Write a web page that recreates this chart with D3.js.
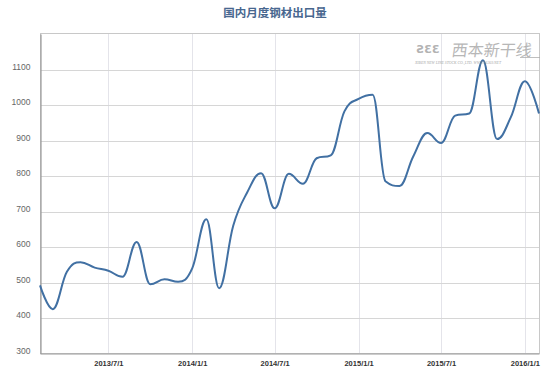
<!DOCTYPE html>
<html><head><meta charset="utf-8">
<script src="https://cdn.jsdelivr.net/npm/d3@7"></script>
<style>body{margin:0;background:#fff;overflow:hidden}</style>
</head><body><svg id="c" width="559" height="382"></svg>
<script>
const title = "国内月度钢材出口量";
const months = ["2013-01","2013-02","2013-03","2013-04","2013-05","2013-06","2013-07","2013-08","2013-09","2013-10","2013-11","2013-12",
  "2014-01","2014-02","2014-03","2014-04","2014-05","2014-06","2014-07","2014-08","2014-09","2014-10","2014-11","2014-12",
  "2015-01","2015-02","2015-03","2015-04","2015-05","2015-06","2015-07","2015-08","2015-09","2015-10","2015-11","2015-12",
  "2016-01"];
const exportVolume = [492,425,530,557,542,533,516,614,495,509,502,540,
  678,484,660,752,808,709,806,778,850,858,982,
  1017,1029,785,772,855,921,893,970,976,1126,904,965,
  1067,976];
const yTicks = [300,400,500,600,700,800,900,1000,1100];
const xTickDates = ["2013-07-01","2014-01-01","2014-07-01","2015-01-01","2015-07-01","2016-01-01"];
const xTickLabels = ["2013/7/1","2014/1/1","2014/7/1","2015/1/1","2015/7/1","2016/1/1"];

const svg = d3.select("#c");
const L = 40, R = 539, T = 34, B = 353.5;
const parseM = d3.timeParse("%Y-%m");
const parseD = d3.timeParse("%Y-%m-%d");
// each month's value is plotted at the end of that month
const pts = months.map((m, i) => ({d: d3.timeMonth.offset(parseM(m), 1), v: exportVolume[i]}));

const x = d3.scaleTime().domain([pts[0].d, pts[pts.length-1].d]).range([L, R]);
const y = d3.scaleLinear().domain([300, 1200]).range([B, T]);

// vertical grid
svg.append("g").selectAll("line").data(xTickDates).join("line")
  .attr("x1", d => Math.round(x(parseD(d))) + 0.5).attr("x2", d => Math.round(x(parseD(d))) + 0.5)
  .attr("y1", T).attr("y2", B).attr("stroke", "#e4e4ea").attr("stroke-width", 1);
// horizontal grid
svg.append("g").selectAll("line").data(yTicks.slice(1)).join("line")
  .attr("x1", L).attr("x2", R)
  .attr("y1", d => Math.round(y(d)) + 0.5).attr("y2", d => Math.round(y(d)) + 0.5)
  .attr("stroke", "#d6d6d6").attr("stroke-width", 1);
// plot border
svg.append("rect").attr("x", L + 0.5).attr("y", T - 0.5).attr("width", R - L).attr("height", B - T + 0.5)
  .attr("fill", "none").attr("stroke", "#c8c8c8").attr("stroke-width", 1);

// axes
const yAxis = d3.axisLeft(y).tickValues(yTicks).tickSize(0).tickPadding(10).tickFormat(d3.format("d"));
const gy = svg.append("g").attr("transform", `translate(${L + 0.5},0)`).call(yAxis);
gy.select(".domain").attr("stroke", "#9a9a9a").attr("stroke-width", 1.2);
gy.selectAll("text").attr("font-family", "Liberation Sans, Arial, sans-serif").attr("font-size", 8.5)
  .attr("fill", "#666").attr("dy", "-0.05em");

const xAxis = d3.axisBottom(x).tickValues(xTickDates.map(parseD)).tickSize(0).tickPadding(7)
  .tickFormat((d, i) => xTickLabels[i]);
const gx = svg.append("g").attr("transform", `translate(0,${B})`).call(xAxis);
gx.select(".domain").attr("stroke", "#9a9a9a").attr("stroke-width", 1.2);
gx.selectAll("text").attr("font-family", "Liberation Sans, Arial, sans-serif").attr("font-size", 7.5)
  .attr("font-weight", "bold").attr("fill", "#333");

// Highcharts-style spline
function splinePath(P) {
  const s = 1.5, den = s + 1, p = d3.path();
  P.forEach((pt, i) => {
    const prev = P[i-1], next = P[i+1];
    let lcx, lcy, rcx, rcy;
    if (prev && next) {
      lcx = (s*pt.x + prev.x)/den; lcy = (s*pt.y + prev.y)/den;
      rcx = (s*pt.x + next.x)/den; rcy = (s*pt.y + next.y)/den;
      const corr = ((rcy - lcy)*(rcx - pt.x))/(rcx - lcx) + pt.y - rcy;
      lcy += corr; rcy += corr;
      if (lcy > prev.y && lcy > pt.y) { lcy = Math.max(prev.y, pt.y); rcy = 2*pt.y - lcy; }
      else if (lcy < prev.y && lcy < pt.y) { lcy = Math.min(prev.y, pt.y); rcy = 2*pt.y - lcy; }
      if (rcy > next.y && rcy > pt.y) { rcy = Math.max(next.y, pt.y); lcy = 2*pt.y - rcy; }
      else if (rcy < next.y && rcy < pt.y) { rcy = Math.min(next.y, pt.y); lcy = 2*pt.y - rcy; }
      pt.rcx = rcx; pt.rcy = rcy;
    }
    if (i === 0) p.moveTo(pt.x, pt.y);
    else p.bezierCurveTo(prev.rcx ?? prev.x, prev.rcy ?? prev.y, lcx ?? pt.x, lcy ?? pt.y, pt.x, pt.y);
  });
  return p.toString();
}
const screenPts = pts.map(p => ({x: x(p.d), y: y(p.v)}));
svg.append("path").attr("d", splinePath(screenPts)).attr("fill", "none")
  .attr("stroke", "#4170a3").attr("stroke-width", 2).attr("stroke-linejoin", "round");

// title
svg.append("text").attr("x", 275).attr("y", 17).attr("text-anchor", "middle")
  .attr("font-family", "Noto Sans CJK SC, sans-serif").attr("font-weight", "bold").attr("font-size", 11.5)
  .attr("fill", "#48678f").text(title);

// watermark
const wm = svg.append("g").attr("opacity", 0.75);
wm.append("text").attr("x", 428).attr("y", 53).attr("text-anchor", "middle")
  .attr("font-family", "DejaVu Sans, sans-serif").attr("font-weight", "bold").attr("font-size", 11)
  .attr("fill", "#9a9a9a").text("ƧƐƐ");
wm.append("text").attr("x", 452).attr("y", 56).attr("font-family", "Noto Sans CJK SC, sans-serif")
  .attr("font-size", 16).attr("fill", "#a0a0a0").attr("transform", "skewX(-8)").attr("dx", 7)
  .text("西本新干线");
wm.append("line").attr("x1", 520).attr("x2", 540).attr("y1", 57.5).attr("y2", 57.5).attr("stroke", "#aaa");
wm.append("text").attr("x", 415).attr("y", 64).attr("font-family", "Liberation Serif, serif")
  .attr("font-size", 3.8).attr("font-style", "italic").attr("fill", "#888")
  .text("XIBEN NEW LINE STOCK CO.,LTD.      WWW.96369.NET");
</script></body></html>
